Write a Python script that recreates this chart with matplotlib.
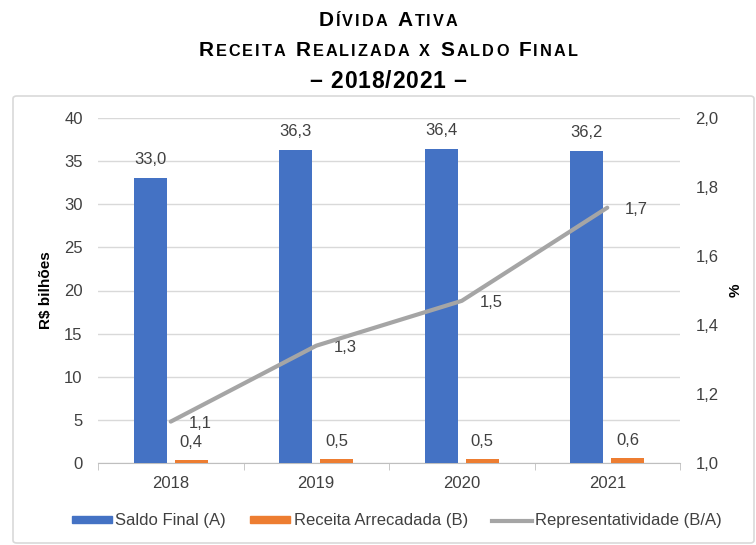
import matplotlib
matplotlib.use("Agg")
import matplotlib.pyplot as plt
import numpy as np
from matplotlib.offsetbox import TextArea, HPacker, AnnotationBbox
from matplotlib.patches import FancyBboxPatch, Patch
from matplotlib.lines import Line2D

plt.rcParams['font.family'] = ['Liberation Sans', 'DejaVu Sans']

years = ['2018', '2019', '2020', '2021']
saldo_final = [33.0, 36.3, 36.4, 36.2]
receita = [0.4, 0.5, 0.5, 0.6]
represent = [1.12, 1.34, 1.47, 1.74]
saldo_labels = ['33,0', '36,3', '36,4', '36,2']
receita_labels = ['0,4', '0,5', '0,5', '0,6']
repr_labels = ['1,1', '1,3', '1,5', '1,7']
left_ticks = [0, 5, 10, 15, 20, 25, 30, 35, 40]
right_ticks = [1.0, 1.2, 1.4, 1.6, 1.8, 2.0]
right_tick_labels = ['1,0', '1,2', '1,4', '1,6', '1,8', '2,0']

BLUE = '#4472C4'
ORANGE = '#ED7D31'
GRAY = '#A5A5A5'
TXT = '#404040'
FS = 12

W, H = 756, 545
fig = plt.figure(figsize=(W / 100, H / 100), dpi=100)

# chart frame
frame = FancyBboxPatch((13 / W, 2 / H), (W - 15) / W, (H - 98) / H,
                       boxstyle='round,pad=0,rounding_size=0.005',
                       transform=fig.transFigure, facecolor='white',
                       edgecolor='#D9D9D9', linewidth=1.2, zorder=0)
fig.patches.append(frame)

ax = fig.add_axes([98 / W, 1 - 463 / H, (680 - 98) / W, (463 - 118) / H])
ax.set_zorder(1)
ax.patch.set_alpha(0)
ax2 = ax.twinx()

x = np.arange(len(years))
bw = 0.227
gap = 0.0275
ax.bar(x - bw / 2 - gap, saldo_final, bw, color=BLUE, zorder=3)
ax.bar(x + bw / 2 + gap, receita, bw, color=ORANGE, zorder=3)

ax.set_ylim(0, 40)
ax.set_yticks(left_ticks)
ax.set_xlim(-0.5, len(years) - 0.5)
ax.set_xticks(x)
ax.set_xticklabels(years)
ax.grid(axis='y', color='#D9D9D9', linewidth=1, zorder=0)
ax.set_axisbelow(True)
for s in ['top', 'right', 'left']:
    ax.spines[s].set_visible(False)
ax.spines['bottom'].set_color('#BFBFBF')
ax.tick_params(axis='y', length=0, labelsize=FS, labelcolor=TXT, pad=11)
ax.tick_params(axis='x', length=0, labelsize=FS, labelcolor=TXT, pad=9)
ax.set_xticks(np.arange(-0.5, len(years)), minor=True)
ax.tick_params(axis='x', which='minor', length=5, color='#BFBFBF')
ax.set_ylabel('R$ bilhões', fontsize=11, fontweight='bold', color='black', labelpad=8)

ax2.plot(x, represent, color=GRAY, linewidth=3, solid_capstyle='round', zorder=4)
ax2.set_ylim(1.0, 2.0)
ax2.set_yticks(right_ticks)
ax2.set_yticklabels(right_tick_labels)
for s in ['top', 'right', 'left', 'bottom']:
    ax2.spines[s].set_visible(False)
ax2.tick_params(axis='y', length=0, labelsize=FS, labelcolor=TXT, pad=11)
ax2.set_ylabel('%', fontsize=11, fontweight='bold', color='black', labelpad=7)

for xi, v, lab in zip(x, saldo_final, saldo_labels):
    ax.annotate(lab, (xi - bw / 2 - gap, v), xytext=(0, 13.5), textcoords='offset points',
                ha='center', va='center', fontsize=FS, color=TXT)
for xi, v, lab in zip(x, receita, receita_labels):
    ax.annotate(lab, (xi + bw / 2 + gap, v), xytext=(0, 12.5), textcoords='offset points',
                ha='center', va='center', fontsize=FS, color=TXT)
for xi, v, lab in zip(x, represent, repr_labels):
    ax2.annotate(lab, (xi, v), xytext=(21, -1.5), textcoords='offset points',
                 ha='center', va='center', fontsize=FS, color=TXT)

# legend
handles = [Patch(color=BLUE), Patch(color=ORANGE), Line2D([], [], color=GRAY, linewidth=3)]
labels = ['Saldo Final (A)', 'Receita Arrecadada (B)', 'Representatividade (B/A)']
fig.legend(handles, labels, loc='center', bbox_to_anchor=(397 / W, 1 - 521 / H),
           ncol=3, frameon=False, fontsize=FS, handlelength=2.4, handleheight=0.35,
           handletextpad=0.2, columnspacing=1.45, labelcolor=TXT)


def smallcaps(text, big, small, y_px, spacing):
    children = []
    for ch in text:
        if ch.islower():
            size, c = small, ch.upper()
        else:
            size, c = big, ch
        children.append(TextArea(c, textprops=dict(fontsize=size, fontweight='bold',
                                                   color='black')))
    pack = HPacker(children=children, align='baseline', pad=0, sep=spacing)
    ab = AnnotationBbox(pack, (388 / W, 1 - y_px / H), xycoords='figure fraction',
                        frameon=False, box_alignment=(0.5, 0.5), pad=0)
    fig.add_artist(ab)


smallcaps('Dívida Ativa', 15, 11.7, 21, 1.5)
smallcaps('Receita Realizada x Saldo Final', 15, 11.7, 50, 1.5)
smallcaps('– 2018/2021 –', 16.5, 16.5, 81, 0.6)

fig.savefig('out.png', dpi=100)
